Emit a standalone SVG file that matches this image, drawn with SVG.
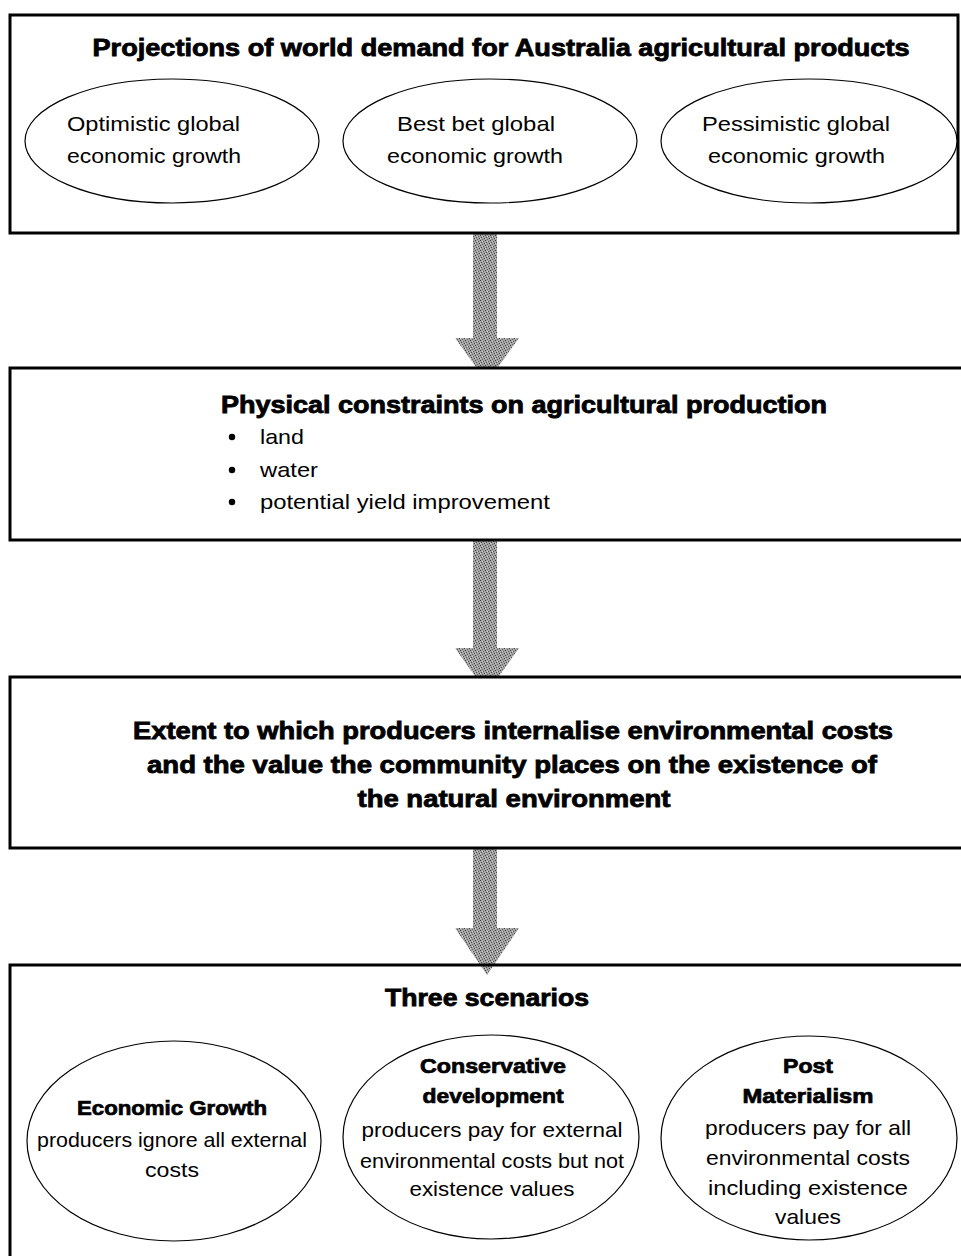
<svg xmlns="http://www.w3.org/2000/svg" width="961" height="1256" viewBox="0 0 961 1256">
<style>
.box{fill:#fff;stroke:#000;stroke-width:3}
.ell{fill:#fff;stroke:#000;stroke-width:1.2}
.h{font-family:"Liberation Sans",Arial,sans-serif;font-weight:bold;font-size:23px;fill:#000;stroke:#000;stroke-width:0.8}
.hs{font-family:"Liberation Sans",Arial,sans-serif;font-weight:bold;font-size:20px;fill:#000;stroke:#000;stroke-width:0.7}
.t{font-family:"Liberation Sans",Arial,sans-serif;font-size:21px;fill:#000}
.arrow{fill:url(#dither)}
</style>
<defs>
<pattern id="dither" width="5" height="5" patternUnits="userSpaceOnUse">
<rect width="5" height="5" fill="#a4a4a4"/>
<rect x="0" y="0" width="1" height="1" fill="#3c3c3c"/>
<rect x="3" y="1" width="1" height="1" fill="#555"/>
<rect x="1" y="2" width="1" height="1" fill="#4a4a4a"/>
<rect x="4" y="3" width="1" height="1" fill="#3c3c3c"/>
<rect x="2" y="4" width="1" height="1" fill="#666"/>
<rect x="2" y="1" width="1" height="1" fill="#d0d0d0"/>
<rect x="0" y="3" width="1" height="1" fill="#d0d0d0"/>
</pattern>
</defs>
<rect width="961" height="1256" fill="#fff"/>

<g id="connectors">
<path class="arrow" d="M473,233 L497,233 L497,338 L519,338 L487,382 L455,338 L473,338 Z"/>
<path class="arrow" d="M473,540 L497,540 L497,648 L519,648 L487,693 L455,648 L473,648 Z"/>
<path class="arrow" d="M473,848 L497,848 L497,928 L519,928 L487,975 L455,928 L473,928 Z"/>
</g>

<g id="box-projections">
<rect class="box" x="10" y="15" width="948" height="218"/>
<text class="h" x="501" y="56" text-anchor="middle" textLength="817" lengthAdjust="spacingAndGlyphs">Projections of world demand for Australia agricultural products</text>
</g>
<g id="ell-optimistic">
<ellipse class="ell" cx="172" cy="141" rx="147" ry="62"/>
<text class="t" x="67" y="131" textLength="173" lengthAdjust="spacingAndGlyphs">Optimistic global</text>
<text class="t" x="67" y="163" textLength="174" lengthAdjust="spacingAndGlyphs">economic growth</text>
</g>
<g id="ell-bestbet">
<ellipse class="ell" cx="490" cy="141" rx="147" ry="62"/>
<text class="t" x="397" y="131" textLength="158" lengthAdjust="spacingAndGlyphs">Best bet global</text>
<text class="t" x="387" y="163" textLength="176" lengthAdjust="spacingAndGlyphs">economic growth</text>
</g>
<g id="ell-pessimistic">
<ellipse class="ell" cx="809" cy="141" rx="148" ry="62"/>
<text class="t" x="702" y="131" textLength="188" lengthAdjust="spacingAndGlyphs">Pessimistic global</text>
<text class="t" x="708" y="163" textLength="177" lengthAdjust="spacingAndGlyphs">economic growth</text>
</g>

<g id="box-physical">
<rect class="box" x="10" y="368" width="955" height="172"/>
<text class="h" x="221" y="413" textLength="606" lengthAdjust="spacingAndGlyphs">Physical constraints on agricultural production</text>
<circle cx="232" cy="437" r="3.2"/>
<circle cx="232" cy="470" r="3.2"/>
<circle cx="232" cy="502" r="3.2"/>
<text class="t" x="260" y="444" textLength="44" lengthAdjust="spacingAndGlyphs">land</text>
<text class="t" x="260" y="477" textLength="58" lengthAdjust="spacingAndGlyphs">water</text>
<text class="t" x="260" y="509" textLength="290" lengthAdjust="spacingAndGlyphs">potential yield improvement</text>
</g>

<g id="box-extent">
<rect class="box" x="10" y="677" width="955" height="171"/>
<text class="h" x="513" y="739" text-anchor="middle" textLength="760" lengthAdjust="spacingAndGlyphs">Extent to which producers internalise environmental costs</text>
<text class="h" x="512" y="773" text-anchor="middle" textLength="730" lengthAdjust="spacingAndGlyphs">and the value the community places on the existence of</text>
<text class="h" x="514" y="807" text-anchor="middle" textLength="313" lengthAdjust="spacingAndGlyphs">the natural environment</text>
</g>

<g id="box-scenarios">
<path d="M10,1260 L10,965 L965,965" fill="none" stroke="#000" stroke-width="3"/>
<text class="h" x="487" y="1006" text-anchor="middle" textLength="204" lengthAdjust="spacingAndGlyphs">Three scenarios</text>
</g>
<g id="ell-economic-growth">
<ellipse class="ell" cx="174" cy="1141" rx="147" ry="100"/>
<text class="hs" x="172" y="1115" text-anchor="middle" textLength="190" lengthAdjust="spacingAndGlyphs">Economic Growth</text>
<text class="t" x="172" y="1147" text-anchor="middle" textLength="270" lengthAdjust="spacingAndGlyphs">producers ignore all external</text>
<text class="t" x="172" y="1177" text-anchor="middle" textLength="54" lengthAdjust="spacingAndGlyphs">costs</text>
</g>
<g id="ell-conservative">
<ellipse class="ell" cx="491" cy="1137" rx="148" ry="102"/>
<text class="hs" x="493" y="1073" text-anchor="middle" textLength="146" lengthAdjust="spacingAndGlyphs">Conservative</text>
<text class="hs" x="493" y="1103" text-anchor="middle" textLength="141" lengthAdjust="spacingAndGlyphs">development</text>
<text class="t" x="492" y="1137" text-anchor="middle" textLength="261" lengthAdjust="spacingAndGlyphs">producers pay for external</text>
<text class="t" x="492" y="1168" text-anchor="middle" textLength="264" lengthAdjust="spacingAndGlyphs">environmental costs but not</text>
<text class="t" x="492" y="1196" text-anchor="middle" textLength="165" lengthAdjust="spacingAndGlyphs">existence values</text>
</g>
<g id="ell-post-materialism">
<ellipse class="ell" cx="809" cy="1138" rx="148" ry="102"/>
<text class="hs" x="808" y="1073" text-anchor="middle" textLength="50" lengthAdjust="spacingAndGlyphs">Post</text>
<text class="hs" x="808" y="1103" text-anchor="middle" textLength="131" lengthAdjust="spacingAndGlyphs">Materialism</text>
<text class="t" x="808" y="1135" text-anchor="middle" textLength="206" lengthAdjust="spacingAndGlyphs">producers pay for all</text>
<text class="t" x="808" y="1165" text-anchor="middle" textLength="204" lengthAdjust="spacingAndGlyphs">environmental costs</text>
<text class="t" x="808" y="1195" text-anchor="middle" textLength="200" lengthAdjust="spacingAndGlyphs">including  existence</text>
<text class="t" x="808" y="1224" text-anchor="middle" textLength="66" lengthAdjust="spacingAndGlyphs">values</text>
</g>
</svg>
